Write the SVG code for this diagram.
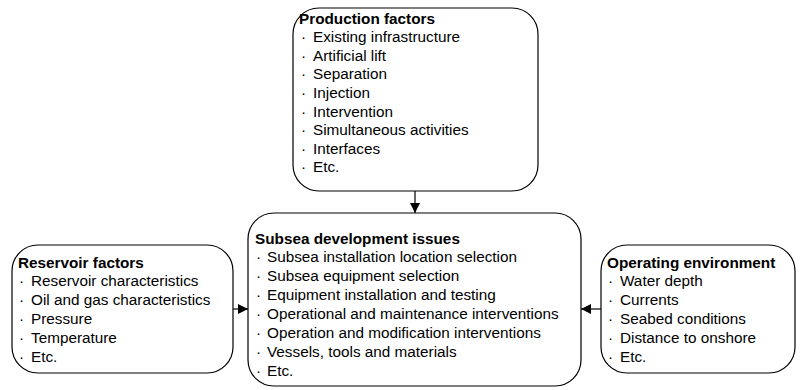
<svg xmlns="http://www.w3.org/2000/svg" width="805" height="390" viewBox="0 0 805 390">
<defs>
<style>
.box{fill:#fff;stroke:#000;stroke-width:1.2}
.t{font-family:"Liberation Sans",Arial,sans-serif;font-size:15.3px;fill:#000}
.h{font-weight:bold}
.edge{stroke:#000;stroke-width:1.2;fill:none}
</style>
<marker id="ah" viewBox="0 0 10 10" refX="10" refY="5" markerWidth="11" markerHeight="10" markerUnits="userSpaceOnUse" orient="auto">
<path d="M0,0 L10,5 L0,10 z" fill="#000"/>
</marker>
</defs>
<rect width="805" height="390" fill="#fff"/>
<g id="production">
<rect class="box" x="293" y="8" width="245" height="183" rx="26" ry="26"/>
<text class="t h" x="299" y="23.5">Production factors</text>
<text class="t"><tspan x="301" y="42">·</tspan><tspan x="313" y="42">Existing infrastructure</tspan>
<tspan x="301" y="60.5">·</tspan><tspan x="313" y="60.5">Artificial lift</tspan>
<tspan x="301" y="79">·</tspan><tspan x="313" y="79">Separation</tspan>
<tspan x="301" y="98">·</tspan><tspan x="313" y="98">Injection</tspan>
<tspan x="301" y="116.5">·</tspan><tspan x="313" y="116.5">Intervention</tspan>
<tspan x="301" y="135">·</tspan><tspan x="313" y="135">Simultaneous activities</tspan>
<tspan x="301" y="153.5">·</tspan><tspan x="313" y="153.5">Interfaces</tspan>
<tspan x="301" y="172">·</tspan><tspan x="313" y="172">Etc.</tspan></text>
</g>
<g id="subsea">
<rect class="box" x="248" y="213" width="333" height="173" rx="26" ry="26"/>
<text class="t h" x="255" y="243.5">Subsea development issues</text>
<text class="t"><tspan x="256" y="262">·</tspan><tspan x="267" y="262">Subsea installation location selection</tspan>
<tspan x="256" y="281">·</tspan><tspan x="267" y="281">Subsea equipment selection</tspan>
<tspan x="256" y="300">·</tspan><tspan x="267" y="300">Equipment installation and testing</tspan>
<tspan x="256" y="319">·</tspan><tspan x="267" y="319">Operational and maintenance interventions</tspan>
<tspan x="256" y="338">·</tspan><tspan x="267" y="338">Operation and modification interventions</tspan>
<tspan x="256" y="357">·</tspan><tspan x="267" y="357">Vessels, tools and materials</tspan>
<tspan x="256" y="376">·</tspan><tspan x="267" y="376">Etc.</tspan></text>
</g>
<g id="reservoir">
<rect class="box" x="12" y="245" width="221" height="128" rx="26" ry="26"/>
<text class="t h" x="18" y="267.5">Reservoir factors</text>
<text class="t"><tspan x="19" y="286">·</tspan><tspan x="31" y="286">Reservoir characteristics</tspan>
<tspan x="19" y="305">·</tspan><tspan x="31" y="305">Oil and gas characteristics</tspan>
<tspan x="19" y="324">·</tspan><tspan x="31" y="324">Pressure</tspan>
<tspan x="19" y="343">·</tspan><tspan x="31" y="343">Temperature</tspan>
<tspan x="19" y="362">·</tspan><tspan x="31" y="362">Etc.</tspan></text>
</g>
<g id="operating">
<rect class="box" x="601" y="245" width="194" height="128" rx="26" ry="26"/>
<text class="t h" x="607" y="267.5">Operating environment</text>
<text class="t"><tspan x="608" y="286">·</tspan><tspan x="620" y="286">Water depth</tspan>
<tspan x="608" y="305">·</tspan><tspan x="620" y="305">Currents</tspan>
<tspan x="608" y="324">·</tspan><tspan x="620" y="324">Seabed conditions</tspan>
<tspan x="608" y="343">·</tspan><tspan x="620" y="343">Distance to onshore</tspan>
<tspan x="608" y="362">·</tspan><tspan x="620" y="362">Etc.</tspan></text>
</g>
<g id="connectors">
<line class="edge" x1="415" y1="191" x2="415" y2="213" marker-end="url(#ah)"/>
<line class="edge" x1="233" y1="309" x2="248" y2="309" marker-end="url(#ah)"/>
<line class="edge" x1="601" y1="309" x2="581" y2="309" marker-end="url(#ah)"/>
</g>
</svg>
